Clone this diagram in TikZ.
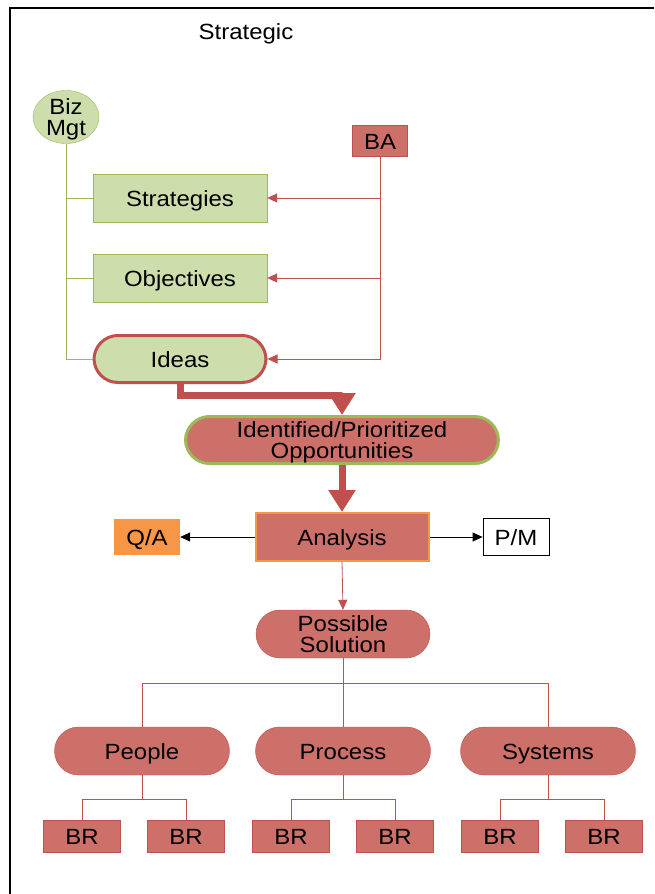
\documentclass[tikz,border=0pt]{standalone}
\usepackage{fontspec}
\setmainfont{Liberation Sans}[FakeStretch=1.09]
\usetikzlibrary{arrows.meta,shapes.geometric}
\definecolor{redfill}{RGB}{205,112,105}
\definecolor{redline}{RGB}{192,80,77}
\definecolor{greenfill}{RGB}{205,221,172}
\definecolor{greenline}{RGB}{155,187,89}
\definecolor{orangefill}{RGB}{247,150,70}

\tikzset{
	gbox/.style={rectangle, fill=greenfill, draw=greenline, minimum width=174pt, minimum height=48pt, inner sep=0pt},
	rbox/.style={rectangle, fill=redfill, draw=redline, inner sep=0pt},
	pill/.style={rectangle, rounded corners=24pt, fill=redfill, draw=redline, minimum width=175pt, minimum height=48pt, inner sep=0pt, align=center},
	brbox/.style={rbox, minimum width=77pt, minimum height=32pt},
	twoline/.style={align=center, text height=37.5pt, text depth=0pt},
	gwire/.style={draw=greenline, line width=0.8pt},
	rwire/.style={draw=redline, line width=0.8pt},
	rarrow/.style={rwire, -{Triangle[length=10pt,width=9pt]}},
	karrow/.style={draw=black, line width=0.8pt, -{Triangle[length=10pt,width=9pt]}},
	fatarrow/.style={draw=redline, line width=7pt, -{Triangle[length=22pt,width=26pt]}}
}

\begin{document}
\begin{tikzpicture}[x=1pt, y=-1pt, font=\fontsize{22}{21.5}\selectfont,
	every node/.style={text height=16pt, text depth=0pt}]
		%%%%% START %%%%%
		\useasboundingbox (0,0) rectangle (654,894);
		\draw[line width=2.8pt] (10,894) -- (10,8) -- (654,8);
		
		\node (title) at (246,31) {Strategic};
		
		% top part
		\node[ellipse, fill=greenfill, draw=greenline, minimum width=66pt, minimum height=47pt, inner sep=0pt, twoline] (bizmgt) at (66,117) {Biz\\Mgt};
		\node[rbox, minimum width=55pt, minimum height=31pt] (ba) at (380,141) {BA};
		
		\node[gbox] (strat) at (180,198) {Strategies};
		\node[gbox] (obj) at (180,278) {Objectives};
		\node[pill, fill=greenfill, line width=3pt, minimum width=172pt, minimum height=47pt] (ideas) at (180,359) {Ideas};
		
		\draw[gwire] (bizmgt.south) |- (ideas.west);
		\draw[gwire] (bizmgt.south |- strat.west) -- (strat.west);
		\draw[gwire] (bizmgt.south |- obj.west) -- (obj.west);
		
		\draw[rarrow] (ba.south) |- (ideas.east);
		\draw[rarrow] (ba.south |- strat.east) -- (strat.east);
		\draw[rarrow] (ba.south |- obj.east) -- (obj.east);
		
		% middle part
		\node[pill, twoline, draw=greenline, line width=3pt, minimum width=313pt, minimum height=47pt] (ident) at (342,440) {Identified/Prioritized\\Opportunities};
		\draw[fatarrow] (ideas.south) -- ++(0,11) -| (ident.north);
		
		\node[rbox, draw=orangefill, line width=2pt, minimum width=173pt, minimum height=48pt] (analysis) at (342,537) {Analysis};
		\draw[fatarrow] (ident.south) -- (analysis.north);
		
		\node[rectangle, fill=orangefill, minimum width=66pt, minimum height=36pt, inner sep=0pt] (qa) at (147,537) {Q/A};
		\node[rectangle, draw=black, line width=0.8pt, minimum width=66pt, minimum height=37pt, inner sep=0pt] (pm) at (516,537) {P/M};
		\draw[karrow] (analysis.west) -- (qa.east);
		\draw[karrow] (analysis.east) -- (pm.west);
		
		\node[pill, twoline, minimum width=174pt] (possol) at (343,634) {Possible\\Solution};
		\draw[rarrow] (analysis.south) -- (possol.north);
		
		% bottom part
		\node[pill] (people) at (142,751) {People};
		\node[pill] (process) at (343,751) {Process};
		\node[pill] (systems) at (548,751) {Systems};
		
		\coordinate (bus) at (343,683);
		\draw[rwire] (possol.south) -- (process.north);
		\draw[rwire] (people.north) -- (people.north |- bus) -- (systems.north |- bus) -- (systems.north);
		
		\node[brbox] (bra) at (82,836) {BR};
		\node[brbox] (brb) at (186,836) {BR};
		\node[brbox] (brc) at (291,836) {BR};
		\node[brbox] (brd) at (395,836) {BR};
		\node[brbox] (bre) at (500,836) {BR};
		\node[brbox] (brf) at (604,836) {BR};
		
		\draw[rwire] (people.south) -- ++(0,24) coordinate (peoplebus);
		\draw[rwire] (bra.north) -- (bra.north |- peoplebus) -- (brb.north |- peoplebus) -- (brb.north);
		
		\draw[rwire] (process.south) -- ++(0,24) coordinate (processbus);
		\draw[rwire] (brc.north) -- (brc.north |- processbus) -- (brd.north |- processbus) -- (brd.north);
		
		\draw[rwire] (systems.south) -- ++(0,24) coordinate (systemsbus);
		\draw[rwire] (bre.north) -- (bre.north |- systemsbus) -- (brf.north |- systemsbus) -- (brf.north);
		%%%%% END %%%%%
	\end{tikzpicture}
\end{document}
